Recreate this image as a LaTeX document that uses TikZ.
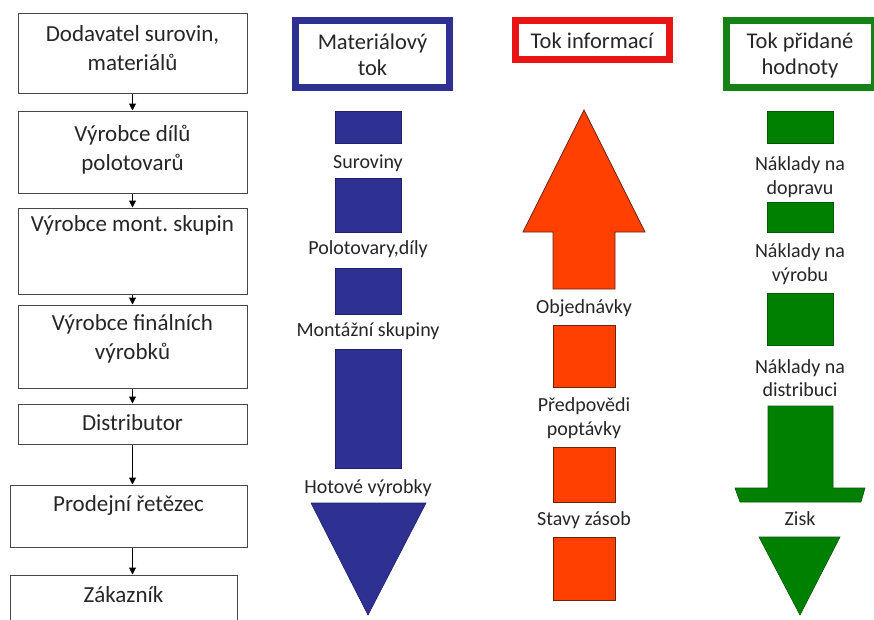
\documentclass[tikz,border=0pt]{standalone}
\usepackage{fontspec}
\setmainfont{Carlito}
\usetikzlibrary{arrows.meta}
\definecolor{navy}{RGB}{46,49,146}
\definecolor{navyedge}{RGB}{30,32,110}
\definecolor{hdrred}{RGB}{235,20,20}
\definecolor{infored}{RGB}{255,64,0}
\definecolor{infoedge}{RGB}{110,35,15}
\definecolor{grn}{RGB}{0,128,0}
\definecolor{grnedge}{RGB}{0,90,0}
\definecolor{hdrgrn}{RGB}{20,130,20}
\definecolor{boxedge}{RGB}{70,70,70}
\tikzset{
  chainbox/.style={draw=boxedge, line width=1pt, fill=white, inner sep=0pt},
  chaintxt/.style={font=\fontsize{23}{29}\selectfont, align=center, inner sep=0pt, text=black!85},
  lbl/.style={font=\fontsize{20}{23.5}\selectfont, align=center, inner sep=0pt, text=black!85},
  hdr/.style={font=\fontsize{22.5}{26}\selectfont, align=center, inner sep=0pt, text=black!85},
  chainarr/.style={draw=black, line width=1pt, -{Triangle[length=7pt,width=7pt]}},
  bluefill/.style={fill=navy, draw=navyedge, line width=0.6pt},
  redfill/.style={fill=infored, draw=infoedge, line width=0.7pt},
  grnfill/.style={fill=grn, draw=grnedge, line width=0.6pt},
}
\begin{document}
\begin{tikzpicture}[x=1pt,y=-1pt]
\useasboundingbox (0,0) rectangle (874,619);
\fill[white] (0,0) rectangle (874,619);

% ---------- left chain ----------
\node[chainbox, minimum width=229pt, minimum height=80pt] (b1) at (132.5,53) {};
\node[chaintxt] (t1) at (132.5,48) {Dodavatel surovin,\\materiálů};
\node[chainbox, minimum width=229pt, minimum height=82pt] (b2) at (132.5,152) {};
\node[chaintxt] (t2) at (132.5,150) {Výrobce dílů\\polotovarů};
\node[chainbox, minimum width=229pt, minimum height=86pt] (b3) at (132.5,251) {};
\node[chaintxt] (t3) at (132.5,225) {Výrobce mont.\ skupin};
\node[chainbox, minimum width=229pt, minimum height=83pt] (b4) at (132.5,346.5) {};
\node[chaintxt] (t4) at (132.5,339) {Výrobce finálních\\výrobků};
\node[chainbox, minimum width=229pt, minimum height=40pt] (b5) at (132.5,424) {};
\node[chaintxt] (t5) at (132.5,423) {Distributor};
\node[chainbox, minimum width=237pt, minimum height=62pt] (b6) at (128.5,516) {};
\node[chaintxt] (t6) at (128.5,505) {Prodejní řetězec};
\node[chainbox, minimum width=227pt, minimum height=70pt] (b7) at (123.5,610) {};
\node[chaintxt] (t7) at (123.5,595) {Zákazník};

\draw[chainarr] (b1.south) -- (b2.north);
\draw[chainarr] (b2.south) -- (b3.north);
\draw[chainarr] (b3.south) -- (b4.north);
\draw[chainarr] (b4.south) -- (b5.north);
\draw[chainarr] (b5.south) -- (b5.south |- b6.north);
\draw[chainarr] (b5.south |- b6.south) -- (b5.south |- b7.north);

% ---------- material flow ----------
\draw[navy, line width=7pt] (295.5,20.5) rectangle (449.5,87.5);
\node[hdr] (hm) at (372.5,55) {Materiálový\\tok};
\path[bluefill] (335,111) rectangle (401,143);
\node[lbl] (m1) at (368,163) {Suroviny};
\path[bluefill] (335,178) rectangle (401,232);
\node[lbl] (m2) at (368,249) {Polotovary,díly};
\path[bluefill] (335,268) rectangle (401,314);
\node[lbl] (m3) at (368,331) {Montážní skupiny};
\path[bluefill] (335,349) rectangle (401,468);
\node[lbl] (m4) at (368,488) {Hotové výrobky};
\path[bluefill] (311,503) -- (426,503) -- (368,615) -- cycle;

% ---------- information flow ----------
\draw[hdrred, line width=7pt] (515.5,20.5) rectangle (669.5,59.5);
\node[hdr] (hi) at (592,41) {Tok informací};
\path[redfill] (584,110) -- (645,232) -- (615,232) -- (615,289) -- (553,289) -- (553,232) -- (523,232) -- cycle;
\node[lbl] (i1) at (584,308) {Objednávky};
\path[redfill] (553,325) rectangle (615,387);
\node[lbl] (i2) at (584,418) {Předpovědi\\poptávky};
\path[redfill] (553,447) rectangle (615,502);
\node[lbl] (i3) at (584,520) {Stavy zásob};
\path[redfill] (553,537) rectangle (615,600);

% ---------- value-added flow ----------
\draw[hdrgrn, line width=7pt] (726.5,20.5) rectangle (874,87.5);
\node[hdr] (hv) at (800,55) {Tok přidané\\hodnoty};
\path[grnfill] (767,111) rectangle (833,143);
\node[lbl] (v1) at (800,177) {Náklady na\\dopravu};
\path[grnfill] (767,202) rectangle (833,232);
\node[lbl] (v2) at (800,264) {Náklady na\\výrobu};
\path[grnfill] (767,293) rectangle (833,345);
\node[lbl] (v3) at (800,378) {Náklady na\\distribuci};
\path[grnfill] (768,406) -- (833,406) -- (833,488) -- (865,488) -- (861,502) -- (740,502) -- (735,488) -- (768,488) -- cycle;
\node[lbl] (v4) at (800,519) {Zisk};
\path[grnfill] (759,537) -- (840,537) -- (800,615) -- cycle;
\end{tikzpicture}
\end{document}
